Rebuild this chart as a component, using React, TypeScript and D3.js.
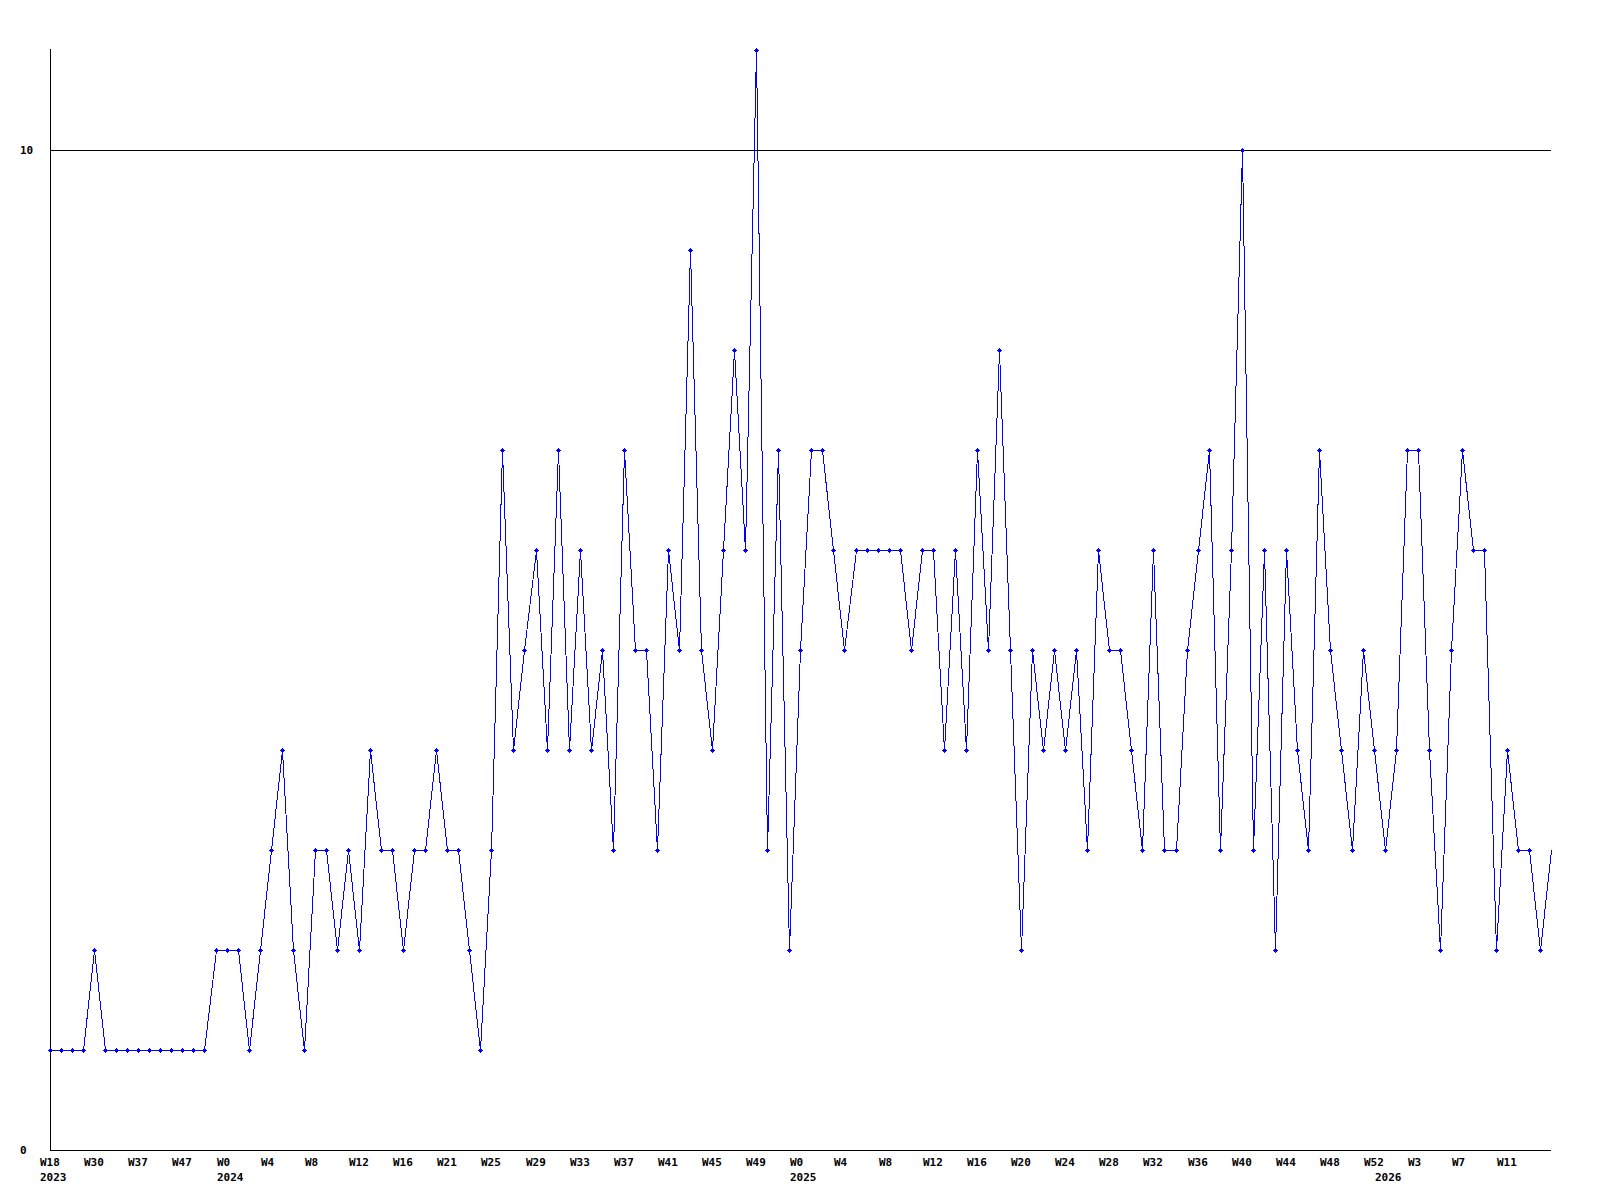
import React from "react";
import * as d3 from "d3";

// Week numbers of each data point, grouped by year
const weeks2023 = [18, 22, 25, 28, 30, 31, 33, 35, 37, 39, 42, 45, 47, 49, 50, 51];
const weeks2024 = [0, 1, 2, 3, 4, 5, 6, 7, 8, 9, 10, 11, 12, 13, 14, 15, 16, 18, 19, 20, 21, 22, 23, 24, 25, 26, 27, 28, 29, 30, 31, 32, 33, 34, 35, 36, 37, 38, 39, 40, 41, 42, 43, 44, 45, 46, 47, 48, 49, 50, 51, 52];
const weeks2025 = [0, 1, 2, 3, 4, 5, 6, 7, 8, 9, 10, 11, 12, 13, 14, 15, 16, 17, 18, 19, 20, 21, 22, 23, 24, 25, 26, 27, 28, 29, 30, 31, 32, 33, 34, 35, 36, 37, 38, 39, 40, 41, 42, 43, 44, 45, 46, 47, 48, 49, 50, 51, 52];
const weeks2026 = [0, 1, 2, 3, 4, 5, 6, 7, 8, 9, 10, 11, 12, 13, 14, 15];

const years = ["2023", "2024", "2025", "2026"];

// Weekly counts
const values = [
  1, 1, 1, 1, 2, 1, 1, 1, 1, 1, 1, 1, 1, 1, 1,
  2, 2, 2, 1, 2,
  3, 4, 2, 1, 3, 3, 2, 3, 2, 4,
  3, 3, 2, 3, 3, 4, 3, 3, 2, 1,
  3, 7, 4, 5, 6, 4, 7, 4, 6, 4,
  5, 3, 7, 5, 5, 3, 6, 5, 9, 5,
  4, 6, 8, 6, 11, 3, 7, 2, 5, 7,
  7, 6, 5, 6, 6, 6, 6, 6, 5, 6,
  6, 4, 6, 4, 7, 5, 8, 5, 2, 5,
  4, 5, 4, 5, 3, 6, 5, 5, 4, 3,
  6, 3, 3, 5, 6, 7, 3, 6, 10, 3,
  6, 2, 6, 4, 3, 7, 5, 4, 3, 5,
  4, 3, 4, 7, 7, 4, 2, 5, 7, 6,
  6, 2, 4, 3, 3, 2, 3,
];

const yTickValues = [0, 10];
const yMax = 11;

export default function App() {
  const W = 1600;
  const H = 1200;
  const left = 50;
  const right = 1550.7;
  const top = 50;
  const bottom = 1150;

  const groups = [weeks2023, weeks2024, weeks2025, weeks2026];
  const points: { week: number; year: string; first: boolean; value: number; i: number }[] = [];
  groups.forEach((g, gi) => {
    g.forEach((w, k) => {
      const i = points.length;
      points.push({ week: w, year: years[gi], first: k === 0, value: values[i], i });
    });
  });
  const last = points.length - 1;

  const x = d3.scaleLinear().domain([0, last]).range([left, right]);
  const y = d3.scaleLinear().domain([0, yMax]).range([bottom, top]);

  const line = d3
    .line<(typeof points)[number]>()
    .x((d) => Math.round(x(d.i)) + 0.5)
    .y((d) => Math.round(y(d.value)) + 0.5);

  const font = "'DejaVu Sans Mono', monospace";
  const ax = left + 0.5;
  const ay = bottom + 0.5;

  return (
    <div style={{ position: "absolute", left: 0, top: 0 }}>
      <svg width={W} height={H} style={{ display: "block", background: "#fff" }}>
        <rect x={0} y={0} width={W} height={H} fill="#fff" />
        {/* gridlines */}
        {yTickValues
          .filter((v) => v > 0)
          .map((v) => (
            <line
              key={"g" + v}
              x1={ax}
              x2={right + 0.5}
              y1={Math.round(y(v)) + 0.5}
              y2={Math.round(y(v)) + 0.5}
              stroke="#000"
              strokeWidth={1}
              shapeRendering="crispEdges"
            />
          ))}
        {/* axes */}
        <line x1={ax} x2={ax} y1={top - 1} y2={ay} stroke="#000" strokeWidth={1} shapeRendering="crispEdges" />
        <line x1={ax} x2={right + 0.5} y1={ay} y2={ay} stroke="#000" strokeWidth={1} shapeRendering="crispEdges" />
        {/* y labels */}
        {yTickValues.map((v) => (
          <text
            key={"y" + v}
            x={20}
            y={Math.round(y(v)) + 4}
            fontFamily={font}
            fontWeight="bold"
            fontSize={11}
            fill="#000"
          >
            {v}
          </text>
        ))}
        {/* x labels */}
        {points.map((p) =>
          p.i % 4 === 0 && p.i < last ? (
            <text
              key={"w" + p.i}
              x={Math.round(x(p.i)) - 10}
              y={1166}
              fontFamily={font}
              fontWeight="bold"
              fontSize={11}
              fill="#000"
            >
              {"W" + p.week}
            </text>
          ) : null
        )}
        {points.map((p) =>
          p.first ? (
            <text
              key={"yr" + p.i}
              x={Math.round(x(p.i)) - 10}
              y={1181}
              fontFamily={font}
              fontWeight="bold"
              fontSize={11}
              fill="#000"
            >
              {p.year}
            </text>
          ) : null
        )}
        {/* series line */}
        <path d={line(points) || ""} fill="none" stroke="#0000ff" strokeWidth={1} shapeRendering="crispEdges" />
        {/* markers */}
        {points.slice(0, last).map((p) => {
          const cx = Math.round(x(p.i));
          const cy = Math.round(y(p.value));
          return (
            <g key={"m" + p.i} fill="#0000ff" shapeRendering="crispEdges">
              <rect x={cx - 1} y={cy - 1} width={3} height={3} />
              <rect x={cx - 2} y={cy} width={5} height={1} />
              <rect x={cx} y={cy - 2} width={1} height={5} />
            </g>
          );
        })}
      </svg>
    </div>
  );
}
